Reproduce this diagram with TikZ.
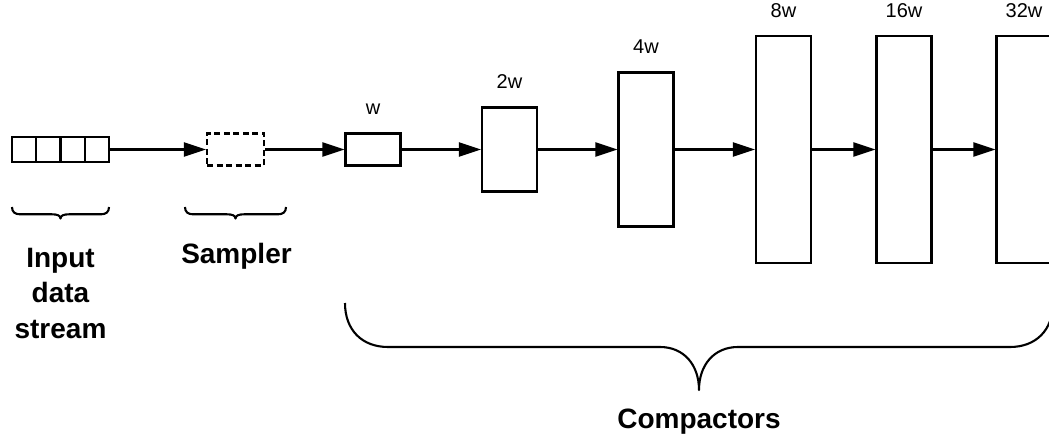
\documentclass[tikz,border=0pt]{standalone}
\usepackage{fontspec}
\setmainfont{Liberation Sans}
\usetikzlibrary{arrows.meta}
\tikzset{
  ln/.style={line width=2.1pt, draw=black},
  cell/.style={ln, rectangle, inner sep=0pt, minimum width=24.25pt, minimum height=25pt},
  samp/.style={ln, rectangle, inner sep=0pt, minimum width=57pt, minimum height=32pt, dash pattern=on 6pt off 3.5pt},
  comp/.style={ln, rectangle, inner sep=0pt, minimum width=55pt},
  arr/.style={ln, -{Triangle[length=22pt,width=14pt]}},
  lab/.style={font=\fontsize{20}{24}\selectfont, inner sep=0pt, anchor=base},
  big/.style={font=\fontsize{28}{35.5}\selectfont\bfseries, inner sep=0pt, anchor=base, align=center},
  brc/.style={line width=2.1pt, line join=round}
}
\begin{document}
\begin{tikzpicture}[x=1pt,y=-1pt]
\useasboundingbox (0,0) rectangle (1049,438);
% input cells
\node[cell] (c1) at (24.125,149.5) {};
\node[cell] (c2) at (48.375,149.5) {};
\node[cell] (c3) at (72.625,149.5) {};
\node[cell] (c4) at (96.875,149.5) {};
% sampler
\node[samp] (s) at (235.5,149.5) {};
% compactors
\node[comp, minimum height=32pt]  (b1) at (373,149.5) {};
\node[comp, minimum height=84pt]  (b2) at (509.5,149.5) {};
\node[comp, minimum height=154pt] (b3) at (646,149.5) {};
\node[comp, minimum height=227pt] (b4) at (783.5,149.5) {};
\node[comp, minimum height=227pt] (b5) at (904,149.5) {};
\node[comp, minimum height=227pt] (b6) at (1024,149.5) {};
% labels
\node[lab] (l1) at ([yshift=17.5pt]b1.north) {w};
\node[lab] (l2) at ([yshift=17.5pt]b2.north) {2w};
\node[lab] (l3) at ([yshift=17.5pt]b3.north) {4w};
\node[lab] (l4) at ([yshift=17.5pt]b4.north) {8w};
\node[lab] (l5) at ([yshift=17.5pt]b5.north) {16w};
\node[lab] (l6) at ([yshift=17.5pt]b6.north) {32w};
% arrows
\draw[arr] (c4.east) -- (s.west);
\draw[arr] (s.east) -- (b1.west);
\draw[arr] (b1.east) -- (b2.west);
\draw[arr] (b2.east) -- (b3.west);
\draw[arr] (b3.east) -- (b4.west);
\draw[arr] (b4.east) -- (b5.west);
\draw[arr] (b5.east) -- (b6.west);
% small braces
\draw[brc] (12,207) .. controls (12,212) and (15,214.3) .. (20,214.3) -- (52,214.3)
  .. controls (57,214.3) and (60.5,215.5) .. (60.5,218.5)
  .. controls (60.5,215.5) and (64,214.3) .. (69,214.3) -- (101,214.3)
  .. controls (106,214.3) and (109,212) .. (109,207);
\draw[brc] (185,207) .. controls (185,212) and (188,214.3) .. (193,214.3) -- (227,214.3)
  .. controls (232,214.3) and (235.5,215.5) .. (235.5,218.5)
  .. controls (235.5,215.5) and (239,214.3) .. (244,214.3) -- (278,214.3)
  .. controls (283,214.3) and (286,212) .. (286,207);
% big brace
\draw[brc] (345,303) .. controls (345,330) and (362,347) .. (388,347) -- (660,347)
  .. controls (684,347) and (699,365) .. (699,390)
  .. controls (699,365) and (714,347) .. (738,347) -- (1010,347)
  .. controls (1036,347) and (1053,330) .. (1053,303);
% texts
\node[big] (tin) at (60.5,338) {Input\\data\\stream};
\node[big] (tsa) at (236.5,264) {Sampler};
\node[big] (tco) at (699,428) {Compactors};
\end{tikzpicture}
\end{document}
